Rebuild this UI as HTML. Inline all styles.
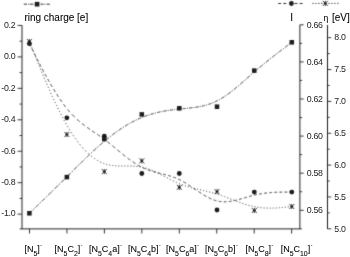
<!DOCTYPE html>
<html><head><meta charset="utf-8"><style>
html,body{margin:0;padding:0;background:#fff;width:350px;height:257px;overflow:hidden}
svg{display:block}
.xl,.ti{stroke:#000;stroke-width:0.12px;stroke-opacity:0.5}
.t{font-family:"Liberation Sans", Arial, sans-serif;font-size:8.8px;fill:#222;letter-spacing:-0.3px}
.ti{font-family:"Liberation Sans", Arial, sans-serif;font-size:10px;fill:#000}
.xl{font-family:"Liberation Sans", Arial, sans-serif;font-size:9px;fill:#000}
.sb{font-size:6.9px}
.sp{font-size:5px}
</style></head><body>
<svg width="350" height="257" viewBox="0 0 350 257">
<defs><filter id="bl" x="0" y="0" width="350" height="257" filterUnits="userSpaceOnUse"><feConvolveMatrix order="3" kernelMatrix="1 6 1 6 36 6 1 6 1" divisor="64" edgeMode="none"/></filter></defs>
<rect width="350" height="257" fill="#fff"/>
<g filter="url(#bl)">
<g stroke="#222" stroke-width="1" fill="none">
<path d="M22.0 25.3V228.9M19.8 228.9H301.8M299.9 24.8V228.9M327.5 25.0V228.9"/>
<path d="M17.60 25.45L22.00 25.45M17.60 56.90L22.00 56.90M17.60 88.35L22.00 88.35M17.60 119.80L22.00 119.80M17.60 151.25L22.00 151.25M17.60 182.70L22.00 182.70M17.60 214.15L22.00 214.15M19.60 41.17L22.00 41.17M19.60 72.62L22.00 72.62M19.60 104.07L22.00 104.07M19.60 135.53L22.00 135.53M19.60 166.97L22.00 166.97M19.60 198.43L22.00 198.43M299.90 24.80L303.70 24.80M299.90 61.90L303.70 61.90M299.90 99.00L303.70 99.00M299.90 136.10L303.70 136.10M299.90 173.20L303.70 173.20M299.90 210.30L303.70 210.30M299.90 43.35L302.10 43.35M299.90 80.45L302.10 80.45M299.90 117.55L302.10 117.55M299.90 154.65L302.10 154.65M299.90 191.75L302.10 191.75M327.50 37.70L331.30 37.70M327.50 69.55L331.30 69.55M327.50 101.40L331.30 101.40M327.50 133.25L331.30 133.25M327.50 165.10L331.30 165.10M327.50 196.95L331.30 196.95M327.50 228.80L331.30 228.80M327.50 53.62L329.70 53.62M327.50 85.48L329.70 85.48M327.50 117.33L329.70 117.33M327.50 149.18L329.70 149.18M327.50 181.03L329.70 181.03M327.50 212.88L329.70 212.88M29.50 228.90L29.50 233.50M66.95 228.90L66.95 233.50M104.40 228.90L104.40 233.50M141.85 228.90L141.85 233.50M179.30 228.90L179.30 233.50M216.75 228.90L216.75 233.50M254.20 228.90L254.20 233.50M291.65 228.90L291.65 233.50" stroke-width="0.9"/>
</g>
<path d="M29.40 213.30L29.47 213.23L29.69 213.02L29.93 212.79L30.18 212.55L30.44 212.29L30.72 212.03L30.99 211.76L31.26 211.51L31.54 211.23L31.83 210.95L32.11 210.68L32.25 210.54M33.32 209.51L33.59 209.25L33.87 208.98L34.15 208.71L34.24 208.62M35.45 207.46L35.73 207.18L36.01 206.91L36.29 206.64L36.57 206.37L36.86 206.09L37.14 205.82L37.42 205.54L37.71 205.27L37.99 204.99L38.28 204.72L38.57 204.43L38.62 204.39M39.72 203.32L40.02 203.04L40.31 202.75L40.61 202.46L40.66 202.41M41.83 201.28L42.13 200.99L42.42 200.71L42.71 200.43L43.00 200.15L43.29 199.87L43.58 199.59L43.86 199.31L44.15 199.03L44.44 198.75L44.73 198.46L45.03 198.18M46.15 197.08L46.45 196.80L46.74 196.51L47.04 196.22M48.23 195.07L48.52 194.78L48.82 194.49L49.11 194.21L49.40 193.93L49.69 193.65L49.98 193.36L50.27 193.08L50.56 192.80L50.85 192.51L51.15 192.22L51.44 191.94M52.54 190.87L52.84 190.58L53.13 190.29L53.42 190.00M54.65 188.80L54.95 188.51L55.24 188.22L55.54 187.93L55.83 187.65L56.12 187.36L56.41 187.08L56.70 186.80L56.99 186.51L57.28 186.23L57.58 185.94L57.82 185.70M58.95 184.59L59.24 184.30L59.54 184.01L59.84 183.72M61.03 182.55L61.32 182.25L61.62 181.96L61.92 181.67L62.22 181.37L62.52 181.08L62.81 180.79L63.10 180.50L63.39 180.22L63.68 179.93L63.97 179.64L64.26 179.36M65.33 178.30L65.62 178.01L65.92 177.72L66.21 177.44L66.26 177.39M67.42 176.23L67.71 175.94L68.01 175.65L68.30 175.36L68.59 175.07L68.88 174.78L69.17 174.50L69.47 174.21L69.76 173.92L70.05 173.63L70.34 173.34L70.63 173.05M71.75 171.94L72.04 171.65L72.33 171.36L72.63 171.07M73.84 169.86L74.13 169.57L74.43 169.28L74.72 168.99L75.01 168.70L75.30 168.41L75.59 168.12L75.88 167.83L76.18 167.54L76.47 167.26L76.76 166.97L77.05 166.68M78.12 165.62L78.41 165.33L78.71 165.05L79.00 164.76L79.05 164.71M80.26 163.52L80.55 163.23L80.84 162.94L81.14 162.66L81.43 162.37L81.72 162.09L82.01 161.80L82.30 161.51L82.60 161.23L82.89 160.95L83.18 160.66L83.42 160.43M84.54 159.34L84.83 159.06L85.12 158.78L85.42 158.49M86.63 157.32L86.92 157.04L87.22 156.77L87.51 156.49L87.80 156.21L88.09 155.93L88.38 155.65L88.68 155.37L88.97 155.10L89.26 154.82L89.55 154.54L89.84 154.27M90.96 153.22L91.25 152.94L91.55 152.67L91.84 152.40M93.05 151.27L93.35 151.00L93.64 150.73L93.93 150.46L94.22 150.19L94.51 149.92L94.80 149.66L95.10 149.39L95.39 149.12L95.68 148.86L95.97 148.59L96.26 148.33M97.33 147.37L97.63 147.10L97.92 146.84L98.21 146.59L98.26 146.54M99.43 145.51L99.72 145.25L100.01 145.00L100.30 144.74L100.59 144.49L100.89 144.23L101.18 143.98L101.47 143.73L101.76 143.48L102.05 143.23L102.35 142.98L102.64 142.73M103.76 141.78L104.05 141.54L104.34 141.29L104.63 141.05M105.85 140.04L106.14 139.80L106.43 139.56L106.73 139.32L107.02 139.09L107.31 138.85L107.60 138.61L107.89 138.38L108.19 138.15L108.48 137.92L108.77 137.68L109.06 137.45M110.13 136.61L110.42 136.38L110.72 136.16L111.01 135.93L111.06 135.90M112.23 135.00L112.52 134.78L112.81 134.56L113.10 134.34L113.39 134.12L113.69 133.91L113.98 133.69L114.27 133.47L114.56 133.26L114.85 133.04L115.15 132.83L115.44 132.62M116.56 131.82L116.85 131.61L117.14 131.40L117.43 131.19M118.65 130.35L118.94 130.14L119.23 129.95L119.53 129.75L119.82 129.55L120.11 129.35L120.40 129.15L120.70 128.96L120.99 128.76L121.28 128.57L121.57 128.38L121.86 128.18M122.93 127.49L123.23 127.30L123.52 127.12L123.81 126.93L123.86 126.90M125.03 126.17L125.32 125.99L125.61 125.81L125.90 125.63L126.20 125.46L126.49 125.28L126.78 125.11L127.07 124.93L127.37 124.76L127.66 124.59L127.95 124.42L128.24 124.24M129.36 123.60L129.65 123.44L129.95 123.27L130.24 123.11M131.46 122.44L131.75 122.28L132.04 122.13L132.33 121.97L132.62 121.81L132.92 121.66L133.21 121.51L133.50 121.36L133.79 121.21L134.08 121.06L134.38 120.91L134.62 120.78M135.74 120.23L136.03 120.09L136.32 119.95L136.62 119.81M137.83 119.23L138.13 119.10L138.42 118.97L138.71 118.83L139.00 118.70L139.29 118.57L139.59 118.44L139.88 118.31L140.17 118.19L140.46 118.06L140.76 117.94L141.05 117.82M142.12 117.37L142.41 117.25L142.70 117.14L143.00 117.02L143.04 117.00M144.26 116.53L144.55 116.42L144.85 116.31L145.14 116.20L145.43 116.10L145.72 115.99L146.01 115.89L146.31 115.78L146.60 115.68L146.89 115.58L147.18 115.47L147.43 115.39M148.55 115.02L148.84 114.92L149.13 114.83L149.42 114.74M150.64 114.36L150.93 114.27L151.23 114.18L151.52 114.09L151.81 114.01L152.10 113.93L152.39 113.84L152.69 113.76L152.98 113.67L153.27 113.59L153.56 113.51L153.86 113.43M154.93 113.15L155.22 113.07L155.51 113.00L155.80 112.93L155.85 112.91M157.02 112.62L157.31 112.56L157.61 112.49L157.90 112.42L158.19 112.35L158.48 112.28L158.78 112.22L159.07 112.15L159.36 112.09L159.65 112.02L159.95 111.96L160.24 111.90M161.36 111.67L161.65 111.61L161.94 111.55L162.24 111.49M163.45 111.26L163.75 111.20L164.04 111.15L164.33 111.10L164.62 111.05L164.92 110.99L165.21 110.94L165.50 110.89L165.79 110.84L166.09 110.79L166.38 110.74L166.62 110.70M167.74 110.52L168.04 110.48L168.33 110.43L168.62 110.39M169.84 110.20L170.13 110.16L170.43 110.12L170.72 110.08L171.01 110.04L171.30 110.00L171.60 109.96L171.89 109.92L172.18 109.88L172.47 109.84L172.77 109.80L173.06 109.77M174.13 109.63L174.43 109.60L174.72 109.56L175.01 109.53L175.06 109.52M176.23 109.39L176.52 109.35L176.82 109.32L177.11 109.29L177.40 109.25L177.70 109.22L177.99 109.19L178.28 109.16L178.57 109.13L178.87 109.10L179.16 109.07L179.45 109.04M180.53 108.93L180.82 108.90L181.11 108.87L181.41 108.84L181.45 108.84M182.63 108.73L182.92 108.70L183.21 108.67L183.51 108.64L183.80 108.61L184.09 108.59L184.39 108.56L184.68 108.53L184.97 108.50L185.26 108.47L185.56 108.44L185.85 108.42M186.93 108.31L187.22 108.28L187.51 108.25L187.81 108.22L187.85 108.22M189.03 108.10L189.32 108.06L189.61 108.03L189.91 108.00L190.20 107.97L190.49 107.94L190.79 107.90L191.08 107.87L191.37 107.83L191.67 107.80L191.96 107.76L192.25 107.73M193.33 107.59L193.62 107.56L193.91 107.52L194.21 107.48L194.26 107.47M195.43 107.30L195.72 107.26L196.01 107.22L196.31 107.17L196.60 107.13L196.89 107.08L197.19 107.03L197.48 106.98L197.77 106.94L198.07 106.89L198.36 106.84L198.65 106.78M199.73 106.59L200.02 106.53L200.31 106.47L200.61 106.42L200.66 106.41M201.83 106.16L202.12 106.10L202.41 106.03L202.71 105.97L203.00 105.90L203.29 105.83L203.59 105.76L203.88 105.69L204.17 105.62L204.47 105.54L204.76 105.47L205.05 105.39M206.13 105.10L206.42 105.02L206.71 104.93L207.00 104.85L207.05 104.83M208.22 104.47L208.52 104.38L208.81 104.28L209.10 104.19L209.39 104.09L209.69 103.99L209.98 103.89L210.27 103.78L210.57 103.68L210.86 103.58L211.15 103.47L211.44 103.35M212.52 102.94L212.81 102.82L213.10 102.70L213.39 102.58L213.44 102.56M214.66 102.03L214.95 101.90L215.24 101.76L215.54 101.62L215.83 101.48L216.12 101.35L216.41 101.21L216.71 101.06L217.00 100.91L217.29 100.76L217.58 100.61L217.83 100.49M218.95 99.89L219.24 99.73L219.53 99.56L219.82 99.39M221.04 98.68L221.33 98.51L221.62 98.33L221.91 98.15L222.20 97.98L222.50 97.79L222.79 97.61L223.08 97.42L223.37 97.24L223.66 97.05L223.96 96.85L224.25 96.66M225.32 95.94L225.61 95.74L225.90 95.54L226.19 95.34L226.24 95.31M227.45 94.45L227.75 94.24L228.04 94.03L228.33 93.81L228.62 93.60L228.91 93.38L229.20 93.17L229.49 92.95L229.79 92.73L230.08 92.51L230.37 92.29L230.66 92.07M231.73 91.24L232.02 91.01L232.31 90.78L232.60 90.55L232.65 90.51M233.86 89.54L234.15 89.31L234.45 89.07L234.74 88.84L235.03 88.60L235.32 88.36L235.61 88.12L235.90 87.88L236.19 87.64L236.48 87.40L236.78 87.15L237.02 86.95M238.13 86.01L238.43 85.77L238.72 85.52L239.01 85.27L239.06 85.23M240.22 84.23L240.51 83.98L240.80 83.73L241.09 83.48L241.39 83.23L241.68 82.98L241.97 82.72L242.26 82.47L242.55 82.22L242.84 81.96L243.13 81.71L243.42 81.46M244.54 80.48L244.83 80.22L245.12 79.97L245.41 79.71L245.46 79.67M246.63 78.64L246.92 78.39L247.21 78.13L247.50 77.87L247.79 77.62L248.08 77.36L248.37 77.10L248.66 76.85L248.96 76.59L249.25 76.34L249.54 76.08L249.83 75.82M250.95 74.85L251.24 74.59L251.53 74.34L251.82 74.08M253.03 73.02L253.32 72.77L253.62 72.52L253.91 72.27L254.20 72.02L254.49 71.77L254.78 71.52L255.07 71.27L255.36 71.02L255.66 70.77L255.95 70.52L256.24 70.27M257.35 69.33L257.64 69.08L257.93 68.84L258.22 68.59M259.45 67.56L259.75 67.31L260.05 67.06L260.35 66.82L260.65 66.57L260.95 66.32L261.24 66.08L261.54 65.83L261.84 65.59L262.13 65.35L262.43 65.10L262.62 64.94M263.75 64.02L264.04 63.78L264.33 63.54L264.62 63.31M265.83 62.33L266.13 62.09L266.43 61.85L266.73 61.61L267.02 61.37L267.31 61.14L267.61 60.90L267.90 60.67L268.19 60.43L268.49 60.19L268.79 59.96L269.04 59.76M270.13 58.89L270.42 58.66L270.72 58.43L271.01 58.20L271.06 58.16M272.26 57.21L272.56 56.98L272.85 56.75L273.15 56.52L273.44 56.29L273.74 56.05L274.04 55.82L274.34 55.59L274.64 55.36L274.93 55.13L275.22 54.90L275.46 54.71M276.55 53.88L276.84 53.65L277.13 53.43L277.41 53.21L277.46 53.17M278.62 52.28L278.91 52.06L279.20 51.83L279.50 51.61L279.79 51.38L280.08 51.16L280.38 50.93L280.68 50.71L280.97 50.48L281.27 50.26L281.57 50.03L281.82 49.84M282.96 48.97L283.24 48.76L283.53 48.54L283.81 48.33L283.86 48.29M285.04 47.40L285.32 47.19L285.61 46.97L285.89 46.76L286.17 46.55L286.45 46.34L286.72 46.13L287.00 45.92L287.28 45.71L287.55 45.50L287.83 45.29L288.11 45.09L288.25 44.98M289.32 44.17L289.61 43.95L289.90 43.74L290.16 43.54L290.25 43.47M291.43 42.58L291.66 42.41L291.80 42.30L291.80 42.30" fill="none" stroke="#121212" stroke-width="0.85"/>
<path d="M29.40 43.70L29.46 43.81L29.57 44.04L29.71 44.31L29.84 44.58L29.98 44.84L30.11 45.10L30.25 45.37L30.38 45.65L30.52 45.93L30.67 46.21L30.72 46.31M31.88 48.60L32.02 48.88L32.17 49.17L32.31 49.47L32.46 49.76L32.61 50.05L32.75 50.34L32.90 50.63L33.05 50.91L33.19 51.20L33.29 51.39M34.43 53.66L34.58 53.95L34.73 54.25L34.88 54.55L35.03 54.85L35.18 55.14L35.33 55.44L35.48 55.74L35.63 56.04L35.78 56.33L35.83 56.43M36.99 58.72L37.14 59.01L37.29 59.31L37.44 59.61L37.59 59.91L37.74 60.20L37.90 60.50L38.05 60.79L38.20 61.09L38.35 61.38L38.40 61.48M39.58 63.78L39.73 64.08L39.88 64.37L40.04 64.67L40.19 64.97L40.34 65.27L40.50 65.57L40.65 65.87L40.81 66.17L40.97 66.46L41.02 66.56M42.20 68.82L42.35 69.12L42.51 69.41L42.67 69.71L42.82 70.00L42.98 70.29L43.13 70.59L43.29 70.88L43.45 71.18L43.60 71.47L43.68 71.62M44.90 73.89L45.06 74.19L45.23 74.49L45.39 74.79L45.55 75.09L45.71 75.38L45.88 75.68L46.04 75.98L46.20 76.28L46.36 76.57L46.42 76.67M47.67 78.93L47.83 79.22L48.00 79.52L48.16 79.82L48.33 80.11L48.50 80.41L48.67 80.71L48.83 81.00L49.00 81.30L49.17 81.60L49.25 81.75M50.54 83.98L50.71 84.28L50.88 84.58L51.06 84.88L51.23 85.18L51.41 85.48L51.58 85.77L51.76 86.07L51.93 86.37L52.11 86.67L52.20 86.82M53.53 89.05L53.71 89.35L53.89 89.65L54.07 89.95L54.25 90.24L54.44 90.54L54.62 90.83L54.80 91.13L54.98 91.42L55.16 91.72L55.26 91.87M56.66 94.10L56.85 94.40L57.04 94.70L57.23 94.99L57.42 95.29L57.61 95.58L57.80 95.88L57.99 96.17L58.18 96.47L58.37 96.76L58.47 96.91M59.99 99.18L60.19 99.48L60.40 99.78L60.60 100.08L60.80 100.37L61.01 100.67L61.22 100.97L61.42 101.26L61.63 101.56L61.84 101.86L61.91 101.96M63.55 104.23L63.77 104.53L63.99 104.82L64.21 105.12L64.43 105.41L64.65 105.70L64.88 106.00L65.10 106.29L65.32 106.58L65.56 106.88L65.68 107.03M67.50 109.30L67.74 109.59L67.98 109.89L68.23 110.18L68.49 110.48L68.74 110.78L69.00 111.08L69.26 111.37L69.51 111.67L69.78 111.96L69.91 112.11M72.01 114.38L72.29 114.68L72.58 114.98L72.87 115.28L73.16 115.57L73.45 115.87L73.74 116.16L74.04 116.45L74.33 116.73L74.62 117.02L74.72 117.11M77.00 119.25L77.29 119.51L77.59 119.77L77.88 120.04L78.17 120.29L78.46 120.54L78.75 120.80L79.05 121.05L79.34 121.30L79.63 121.55L79.82 121.71M82.06 123.54L82.35 123.77L82.64 124.00L82.94 124.23L83.23 124.45L83.52 124.68L83.81 124.90L84.10 125.12L84.40 125.35L84.69 125.57L84.88 125.71M87.12 127.36L87.41 127.57L87.70 127.78L87.99 127.99L88.29 128.19L88.58 128.40L88.87 128.61L89.16 128.81L89.45 129.02L89.75 129.22L89.94 129.36M92.18 130.90L92.47 131.10L92.76 131.30L93.05 131.50L93.35 131.70L93.64 131.90L93.93 132.10L94.22 132.29L94.51 132.49L94.80 132.69L95.00 132.82M97.24 134.35L97.53 134.55L97.82 134.75L98.11 134.95L98.40 135.15L98.70 135.35L98.99 135.55L99.28 135.75L99.57 135.96L99.86 136.16L100.06 136.30M102.30 137.88L102.59 138.09L102.88 138.30L103.17 138.52L103.46 138.73L103.76 138.94L104.05 139.16L104.34 139.38L104.63 139.59L104.92 139.81L105.12 139.96M107.36 141.68L107.65 141.90L107.94 142.13L108.23 142.36L108.53 142.59L108.82 142.82L109.11 143.05L109.40 143.29L109.69 143.52L109.99 143.76L110.18 143.91M112.42 145.73L112.71 145.96L113.00 146.20L113.30 146.44L113.59 146.68L113.88 146.92L114.17 147.16L114.46 147.40L114.76 147.64L115.05 147.89L115.24 148.05M117.48 149.90L117.77 150.14L118.07 150.38L118.36 150.62L118.65 150.86L118.94 151.11L119.23 151.35L119.53 151.59L119.82 151.83L120.11 152.07L120.26 152.19M122.55 154.06L122.84 154.29L123.13 154.53L123.42 154.76L123.71 155.00L124.01 155.23L124.30 155.47L124.59 155.70L124.88 155.93L125.17 156.16L125.32 156.28M127.61 158.06L127.90 158.28L128.19 158.50L128.49 158.73L128.78 158.95L129.07 159.17L129.36 159.38L129.65 159.60L129.95 159.82L130.24 160.03L130.38 160.14M132.67 161.77L132.96 161.98L133.26 162.17L133.55 162.37L133.84 162.57L134.13 162.77L134.43 162.97L134.72 163.16L135.01 163.35L135.30 163.54L135.45 163.63M137.74 165.05L138.03 165.22L138.32 165.40L138.61 165.57L138.91 165.73L139.20 165.90L139.49 166.06L139.78 166.22L140.07 166.39L140.37 166.54L140.51 166.62M142.80 167.77L143.09 167.90L143.39 168.03L143.68 168.17L143.97 168.30L144.26 168.43L144.55 168.55L144.85 168.68L145.14 168.80L145.43 168.92L145.58 168.98M147.82 169.84L148.11 169.95L148.40 170.05L148.69 170.16L148.99 170.26L149.28 170.35L149.57 170.45L149.86 170.55L150.15 170.65L150.45 170.74L150.64 170.80M152.88 171.48L153.17 171.57L153.47 171.65L153.76 171.73L154.05 171.81L154.34 171.89L154.63 171.97L154.93 172.05L155.22 172.13L155.51 172.21L155.71 172.26M157.95 172.84L158.24 172.91L158.53 172.98L158.82 173.06L159.12 173.13L159.41 173.20L159.70 173.27L159.99 173.35L160.29 173.42L160.58 173.49L160.77 173.54M163.02 174.09L163.31 174.16L163.60 174.24L163.89 174.31L164.18 174.39L164.48 174.46L164.77 174.54L165.06 174.61L165.35 174.69L165.65 174.76L165.84 174.81M168.08 175.43L168.38 175.51L168.67 175.59L168.96 175.68L169.26 175.77L169.55 175.85L169.84 175.94L170.13 176.03L170.43 176.12L170.72 176.21L170.86 176.26M173.16 177.03L173.45 177.13L173.74 177.23L174.04 177.34L174.33 177.45L174.62 177.56L174.91 177.67L175.21 177.79L175.50 177.90L175.79 178.02L175.94 178.08M178.18 179.04L178.48 179.18L178.77 179.32L179.06 179.46L179.36 179.60L179.65 179.74L179.94 179.89L180.23 180.04L180.53 180.19L180.82 180.34L181.02 180.44M183.26 181.68L183.56 181.84L183.85 182.01L184.14 182.19L184.43 182.36L184.73 182.54L185.02 182.71L185.31 182.89L185.61 183.07L185.90 183.25L186.05 183.34M188.34 184.79L188.64 184.99L188.93 185.18L189.22 185.37L189.52 185.56L189.81 185.75L190.10 185.95L190.40 186.14L190.69 186.34L190.98 186.53L191.13 186.63M193.38 188.15L193.67 188.35L193.96 188.55L194.26 188.75L194.55 188.95L194.84 189.15L195.14 189.35L195.43 189.54L195.72 189.74L196.01 189.94L196.16 190.04M198.46 191.58L198.75 191.78L199.04 191.97L199.34 192.17L199.63 192.36L199.92 192.55L200.22 192.74L200.51 192.93L200.80 193.12L201.10 193.31L201.24 193.41M203.49 194.81L203.78 194.99L204.07 195.17L204.37 195.34L204.66 195.51L204.95 195.69L205.25 195.86L205.54 196.03L205.83 196.19L206.13 196.36L206.32 196.47M208.57 197.67L208.86 197.82L209.15 197.97L209.44 198.11L209.74 198.25L210.03 198.39L210.32 198.53L210.61 198.67L210.91 198.80L211.20 198.93L211.35 198.99M213.64 199.92L213.93 200.02L214.22 200.12L214.51 200.22L214.81 200.32L215.10 200.41L215.39 200.50L215.68 200.58L215.98 200.67L216.27 200.76L216.41 200.80M218.70 201.30L218.99 201.36L219.29 201.41L219.58 201.45L219.87 201.49L220.16 201.53L220.45 201.57L220.75 201.61L221.04 201.64L221.33 201.66L221.48 201.67M223.76 201.79L224.05 201.79L224.34 201.80L224.64 201.80L224.93 201.80L225.22 201.79L225.51 201.77L225.80 201.76L226.09 201.75L226.39 201.74L226.53 201.73M228.81 201.53L229.11 201.50L229.40 201.46L229.69 201.42L229.98 201.38L230.27 201.34L230.56 201.30L230.85 201.25L231.14 201.20L231.44 201.15L231.58 201.13M233.86 200.69L234.15 200.62L234.45 200.56L234.74 200.50L235.03 200.43L235.32 200.36L235.61 200.29L235.90 200.23L236.19 200.16L236.48 200.08L236.68 200.04M238.91 199.45L239.20 199.37L239.49 199.29L239.78 199.21L240.08 199.13L240.37 199.05L240.66 198.97L240.95 198.88L241.24 198.80L241.53 198.71L241.72 198.66M243.96 198.00L244.25 197.91L244.54 197.83L244.83 197.74L245.12 197.65L245.41 197.57L245.70 197.48L245.99 197.39L246.29 197.30L246.58 197.22L246.77 197.16M249.05 196.49L249.34 196.41L249.63 196.33L249.93 196.24L250.22 196.16L250.51 196.08L250.80 196.00L251.09 195.92L251.38 195.84L251.67 195.76L251.82 195.72M254.10 195.14L254.39 195.07L254.68 195.00L254.98 194.94L255.27 194.87L255.56 194.80L255.85 194.74L256.14 194.67L256.43 194.61L256.72 194.55L256.92 194.51M259.15 194.07L259.45 194.02L259.75 193.96L260.05 193.91L260.35 193.86L260.65 193.81L260.95 193.76L261.24 193.71L261.54 193.66L261.84 193.62L261.98 193.60M264.23 193.27L264.52 193.23L264.81 193.20L265.10 193.16L265.39 193.12L265.69 193.09L265.98 193.05L266.28 193.02L266.58 192.99L266.87 192.95L267.02 192.94M269.29 192.71L269.59 192.68L269.88 192.66L270.18 192.63L270.47 192.61L270.77 192.58L271.06 192.56L271.34 192.54L271.63 192.52L271.92 192.50L272.07 192.49M274.34 192.35L274.64 192.33L274.93 192.32L275.22 192.30L275.51 192.29L275.81 192.28L276.10 192.26L276.40 192.25L276.69 192.24L276.98 192.23L277.13 192.22M279.40 192.16L279.69 192.15L279.99 192.14L280.28 192.14L280.58 192.13L280.87 192.13L281.17 192.12L281.47 192.12L281.77 192.12L282.06 192.11L282.20 192.11M284.48 192.10L284.76 192.10L285.04 192.10L285.32 192.10L285.61 192.10L285.89 192.10L286.17 192.10L286.45 192.10L286.72 192.10L287.00 192.10L287.28 192.10M289.51 192.10L289.80 192.10L290.07 192.10L290.34 192.10L290.63 192.10L290.88 192.10L291.15 192.10L291.39 192.10L291.63 192.10L291.79 192.10L291.80 192.10" fill="none" stroke="#121212" stroke-width="0.85"/>
<path d="M29.40 41.50L29.44 41.60L29.53 41.83L29.64 42.10L29.75 42.37L29.77 42.42M30.60 44.49L30.73 44.79L30.84 45.08L30.96 45.37L31.00 45.47M31.83 47.53L31.95 47.82L32.07 48.12L32.19 48.42L32.21 48.47M33.05 50.55L33.16 50.85L33.28 51.14L33.40 51.43L33.44 51.52M34.27 53.59L34.39 53.89L34.51 54.18L34.63 54.48L34.65 54.53M35.48 56.60L35.60 56.89L35.72 57.19L35.84 57.49L35.86 57.54M36.69 59.61L36.82 59.91L36.94 60.21L37.06 60.51L37.08 60.56M37.92 62.63L38.03 62.93L38.15 63.22L38.27 63.51L38.31 63.61M39.15 65.67L39.27 65.97L39.39 66.26L39.51 66.56L39.53 66.61M40.40 68.72L40.52 69.02L40.65 69.32L40.77 69.62L40.79 69.67M41.63 71.71L41.75 72.00L41.88 72.30L42.00 72.60L42.04 72.70M42.89 74.74L43.02 75.04L43.14 75.34L43.27 75.64L43.29 75.69M44.16 77.76L44.29 78.06L44.41 78.35L44.54 78.65L44.58 78.75M45.46 80.82L45.59 81.12L45.71 81.42L45.84 81.71L45.86 81.76M46.75 83.84L46.88 84.13L47.01 84.43L47.14 84.72L47.16 84.77M48.06 86.85L48.19 87.15L48.32 87.45L48.46 87.74L48.48 87.79M49.40 89.88L49.53 90.18L49.66 90.48L49.79 90.77L49.81 90.82M50.74 92.90L50.88 93.20L51.01 93.50L51.15 93.80L51.17 93.85M52.12 95.94L52.25 96.24L52.39 96.54L52.53 96.84L52.55 96.89M53.51 98.98L53.65 99.28L53.79 99.58L53.93 99.88L53.95 99.93M54.91 101.97L55.05 102.27L55.19 102.57L55.33 102.87L55.35 102.92M56.35 105.00L56.49 105.30L56.63 105.59L56.78 105.89L56.82 105.99M57.82 108.04L57.97 108.34L58.11 108.64L58.26 108.94L58.28 108.99M59.32 111.06L59.46 111.36L59.61 111.66L59.76 111.95L59.79 112.00M60.85 114.09L61.00 114.39L61.15 114.68L61.31 114.98L61.33 115.03M62.42 117.12L62.58 117.42L62.74 117.71L62.90 118.01L62.92 118.06M64.04 120.14L64.20 120.44L64.36 120.74L64.53 121.03L64.55 121.08M65.71 123.16L65.88 123.46L66.04 123.76L66.21 124.06L66.24 124.11M67.44 126.19L67.61 126.49L67.79 126.79L67.96 127.08L67.99 127.13M69.24 129.22L69.42 129.52L69.61 129.82L69.79 130.11L69.82 130.16M71.12 132.23L71.31 132.53L71.50 132.82L71.69 133.12L71.76 133.22M73.12 135.29L73.32 135.58L73.52 135.88L73.71 136.17L73.74 136.22M75.19 138.30L75.40 138.59L75.61 138.88L75.82 139.18L75.90 139.27M77.42 141.34L77.64 141.63L77.86 141.93L78.09 142.23L78.13 142.28M79.79 144.37L80.03 144.66L80.27 144.96L80.51 145.26L80.55 145.31M82.34 147.40L82.60 147.69L82.87 147.99L83.13 148.28L83.18 148.33M85.12 150.42L85.42 150.72L85.71 151.01L86.00 151.31L86.05 151.36M88.14 153.37L88.43 153.64L88.72 153.90L89.02 154.17L89.06 154.21M91.16 155.99L91.45 156.22L91.74 156.46L92.03 156.69L92.08 156.73M94.17 158.28L94.46 158.48L94.76 158.69L95.05 158.89L95.10 158.92M97.19 160.24L97.48 160.42L97.77 160.60L98.06 160.76L98.16 160.81M100.20 161.89L100.50 162.04L100.79 162.18L101.08 162.31L101.18 162.35M103.27 163.25L103.56 163.36L103.85 163.46L104.15 163.57L104.19 163.58M106.29 164.26L106.58 164.34L106.87 164.42L107.16 164.50L107.21 164.51M109.30 165.00L109.60 165.05L109.89 165.11L110.18 165.17L110.23 165.18M112.32 165.50L112.61 165.53L112.91 165.57L113.20 165.61L113.30 165.62M115.34 165.81L115.63 165.83L115.92 165.85L116.22 165.87L116.31 165.87M118.36 165.97L118.65 165.98L118.94 165.99L119.23 165.99L119.33 165.99M121.43 166.03L121.72 166.03L122.01 166.03L122.30 166.03L122.35 166.03M124.44 166.02L124.74 166.02L125.03 166.02L125.32 166.02L125.37 166.02M127.46 166.01L127.75 166.01L128.05 166.01L128.34 166.01L128.39 166.01M130.48 166.02L130.77 166.03L131.07 166.03L131.36 166.04L131.46 166.04M133.50 166.11L133.79 166.13L134.08 166.14L134.38 166.16L134.47 166.16M136.52 166.32L136.81 166.35L137.10 166.38L137.40 166.41L137.49 166.42M139.54 166.69L139.83 166.74L140.12 166.78L140.41 166.84L140.51 166.86M142.61 167.28L142.90 167.35L143.19 167.42L143.48 167.50L143.53 167.51M145.63 168.09L145.92 168.18L146.21 168.27L146.50 168.37L146.55 168.38M148.64 169.10L148.94 169.21L149.23 169.32L149.52 169.43L149.57 169.45M151.66 170.29L151.96 170.41L152.25 170.53L152.54 170.66L152.59 170.68M154.68 171.61L154.98 171.74L155.27 171.88L155.56 172.01L155.66 172.06M157.70 173.04L158.00 173.18L158.29 173.33L158.58 173.47L158.68 173.52M160.72 174.55L161.02 174.70L161.31 174.85L161.60 175.00L161.70 175.05M163.75 176.10L164.04 176.25L164.33 176.41L164.62 176.56L164.72 176.61M166.82 177.70L167.11 177.85L167.40 178.00L167.69 178.15L167.74 178.18M169.84 179.25L170.13 179.40L170.43 179.55L170.72 179.70L170.77 179.72M172.86 180.76L173.16 180.90L173.45 181.04L173.74 181.18L173.79 181.21M175.89 182.19L176.18 182.32L176.47 182.45L176.77 182.59L176.82 182.61M178.92 183.51L179.21 183.63L179.50 183.75L179.79 183.87L179.84 183.89M181.94 184.69L182.24 184.80L182.53 184.91L182.82 185.01L182.87 185.03M184.97 185.75L185.26 185.85L185.56 185.94L185.85 186.04L185.90 186.05M187.95 186.69L188.25 186.78L188.54 186.86L188.83 186.95L188.93 186.97M190.98 187.55L191.27 187.63L191.57 187.71L191.86 187.78L191.96 187.81M194.01 188.34L194.30 188.41L194.60 188.49L194.89 188.56L194.99 188.58M197.04 189.08L197.33 189.15L197.63 189.22L197.92 189.29L198.02 189.31M200.07 189.79L200.36 189.86L200.66 189.92L200.95 189.99L201.05 190.01M203.10 190.48L203.39 190.55L203.68 190.62L203.98 190.69L204.07 190.71M206.13 191.19L206.42 191.26L206.71 191.33L207.00 191.40L207.10 191.42M209.15 191.92L209.44 191.99L209.74 192.06L210.03 192.14L210.13 192.16M212.17 192.69L212.47 192.77L212.76 192.85L213.05 192.93L213.15 192.96M215.20 193.53L215.49 193.62L215.78 193.70L216.07 193.79L216.17 193.82M218.22 194.45L218.51 194.55L218.80 194.64L219.09 194.74L219.19 194.77M221.28 195.48L221.57 195.58L221.86 195.68L222.16 195.79L222.20 195.80M224.30 196.56L224.59 196.66L224.88 196.77L225.17 196.88L225.22 196.90M227.31 197.68L227.60 197.79L227.89 197.90L228.18 198.01L228.28 198.05M230.32 198.83L230.61 198.94L230.90 199.06L231.19 199.17L231.29 199.21M233.38 200.01L233.67 200.12L233.96 200.23L234.25 200.35L234.30 200.37M236.39 201.16L236.68 201.27L236.97 201.38L237.26 201.49L237.36 201.52M239.40 202.28L239.69 202.38L239.98 202.49L240.27 202.59L240.37 202.63M242.45 203.36L242.74 203.46L243.03 203.56L243.33 203.66L243.37 203.67M245.46 204.35L245.75 204.44L246.04 204.54L246.33 204.62L246.43 204.65M248.52 205.27L248.81 205.35L249.10 205.43L249.39 205.51L249.44 205.52M251.53 206.06L251.82 206.13L252.11 206.20L252.40 206.27L252.45 206.28M254.54 206.72L254.83 206.78L255.12 206.83L255.41 206.89L255.51 206.90M257.59 207.25L257.88 207.29L258.17 207.33L258.46 207.37L258.51 207.38M260.60 207.63L260.90 207.66L261.19 207.69L261.49 207.73L261.54 207.73M263.65 207.90L263.94 207.92L264.23 207.94L264.52 207.96L264.57 207.96M266.68 208.06L266.97 208.07L267.26 208.08L267.56 208.09L267.61 208.09M269.69 208.12L269.98 208.12L270.28 208.12L270.57 208.12L270.62 208.12M272.70 208.10L273.00 208.09L273.29 208.08L273.59 208.07L273.64 208.07M275.71 207.99L276.00 207.97L276.30 207.96L276.60 207.94L276.69 207.93M278.77 207.80L279.06 207.78L279.35 207.76L279.64 207.73L279.69 207.73M281.77 207.55L282.06 207.52L282.34 207.50L282.63 207.47L282.72 207.46M284.81 207.25L285.09 207.22L285.37 207.19L285.65 207.16L285.75 207.15M287.83 206.92L288.11 206.89L288.39 206.86L288.66 206.83L288.80 206.82M290.84 206.60L291.11 206.57L291.36 206.55L291.59 206.52L291.78 206.50L291.80 206.50" fill="none" stroke="#121212" stroke-width="0.85"/>
<path d="M26.90 39.00L31.90 44.00M31.90 39.00L26.90 44.00M29.40 44.00V39.00M27.90 41.50H30.90M64.35 132.00L69.35 137.00M69.35 132.00L64.35 137.00M66.85 137.00V132.00M65.35 134.50H68.35M101.80 169.10L106.80 174.10M106.80 169.10L101.80 174.10M104.30 174.10V169.10M102.80 171.60H105.80M139.30 158.40L144.30 163.40M144.30 158.40L139.30 163.40M141.80 163.40V158.40M140.30 160.90H143.30M176.80 184.90L181.80 189.90M181.80 184.90L176.80 189.90M179.30 189.90V184.90M177.80 187.40H180.80M214.50 189.10L219.50 194.10M219.50 189.10L214.50 194.10M217.00 194.10V189.10M215.50 191.60H218.50M251.80 208.00L256.80 213.00M256.80 208.00L251.80 213.00M254.30 213.00V208.00M252.80 210.50H255.80M289.30 204.00L294.30 209.00M294.30 204.00L289.30 209.00M291.80 209.00V204.00M290.30 206.50H293.30" stroke="#000" stroke-width="0.8" fill="none"/>
<circle cx="29.40" cy="43.70" r="2.4" fill="#1a1a1a"/>
<circle cx="66.85" cy="117.80" r="2.4" fill="#1a1a1a"/>
<circle cx="104.30" cy="136.20" r="2.4" fill="#1a1a1a"/>
<circle cx="141.80" cy="173.50" r="2.4" fill="#1a1a1a"/>
<circle cx="179.30" cy="173.50" r="2.4" fill="#1a1a1a"/>
<circle cx="217.00" cy="210.00" r="2.4" fill="#1a1a1a"/>
<circle cx="254.30" cy="192.10" r="2.4" fill="#1a1a1a"/>
<circle cx="291.80" cy="192.10" r="2.4" fill="#1a1a1a"/>
<rect x="27.15" y="211.05" width="4.5" height="4.5" fill="#1a1a1a"/>
<rect x="64.60" y="174.85" width="4.5" height="4.5" fill="#1a1a1a"/>
<rect x="102.05" y="136.85" width="4.5" height="4.5" fill="#1a1a1a"/>
<rect x="139.55" y="112.15" width="4.5" height="4.5" fill="#1a1a1a"/>
<rect x="177.05" y="106.05" width="4.5" height="4.5" fill="#1a1a1a"/>
<rect x="214.75" y="104.45" width="4.5" height="4.5" fill="#1a1a1a"/>
<rect x="252.05" y="68.35" width="4.5" height="4.5" fill="#1a1a1a"/>
<rect x="289.55" y="40.05" width="4.5" height="4.5" fill="#1a1a1a"/>
<path d="M23.8 4.2H27.0M28.2 4.2H29.0M29.8 4.2H33.4M40.6 4.2H43.6M44.6 4.2H45.4M46.6 4.2H49.9" stroke="#121212" stroke-width="0.85"/>
<rect x="34.8" y="1.9" width="4.6" height="4.6" fill="#1a1a1a"/>
<path d="M278.1 3.5H281.1M283.3 3.5H286.3M294.4 3.5H297.4M299.6 3.5H302.6" stroke="#121212" stroke-width="0.85"/>
<circle cx="291.4" cy="3.5" r="2.4" fill="#1a1a1a"/>
<path d="M312.35 3.4H313.65M315.25 3.4H316.54999999999995M318.15000000000003 3.4H319.45M321.05 3.4H322.34999999999997M328.25 3.4H329.54999999999995M331.25 3.4H332.54999999999995M334.25 3.4H335.54999999999995M337.25 3.4H338.54999999999995" stroke="#121212" stroke-width="0.85"/>
<path d="M322.80 0.90L327.80 5.90M327.80 0.90L322.80 5.90M325.30 5.90V0.90M323.80 3.40H326.80" stroke="#000" stroke-width="0.8" fill="none"/>
</g>
<g>
<text x="15.3" y="27.75" text-anchor="end" class="t">0.2</text>
<text x="15.3" y="59.20" text-anchor="end" class="t">0.0</text>
<text x="15.3" y="90.65" text-anchor="end" class="t">-0.2</text>
<text x="15.3" y="122.10" text-anchor="end" class="t">-0.4</text>
<text x="15.3" y="153.55" text-anchor="end" class="t">-0.6</text>
<text x="15.3" y="185.00" text-anchor="end" class="t">-0.8</text>
<text x="15.3" y="216.45" text-anchor="end" class="t">-1.0</text>
<text x="306.7" y="27.50" class="t">0.66</text>
<text x="306.7" y="64.60" class="t">0.64</text>
<text x="306.7" y="101.70" class="t">0.62</text>
<text x="306.7" y="138.80" class="t">0.60</text>
<text x="306.7" y="175.90" class="t">0.58</text>
<text x="306.7" y="213.00" class="t">0.56</text>
<text x="334.3" y="40.40" class="t">8.0</text>
<text x="334.3" y="72.25" class="t">7.5</text>
<text x="334.3" y="104.10" class="t">7.0</text>
<text x="334.3" y="135.95" class="t">6.5</text>
<text x="334.3" y="167.80" class="t">6.0</text>
<text x="334.3" y="199.65" class="t">5.5</text>
<text x="334.3" y="231.50" class="t">5.0</text>
<text x="24.4" y="21.4" class="ti" textLength="63.8" lengthAdjust="spacing">ring charge [e]</text>
<text x="290.3" y="21.2" class="ti">I</text>
<text x="323.6" y="21.0" class="ti"><tspan style="font-size:8.6px">&#951;</tspan><tspan x="331.9" dy="0.4">[eV]</tspan></text>
<text x="24.4" y="251.6" class="xl"><tspan dy="0">[N</tspan><tspan class="sb" dy="4.6">5</tspan><tspan dy="-4.6">]</tspan><tspan class="sp" dx="0.5" dy="-4.4">-</tspan></text>
<text x="54.6" y="251.6" class="xl"><tspan dy="0">[N</tspan><tspan class="sb" dy="4.6">5</tspan><tspan dy="-4.6">C</tspan><tspan class="sb" dy="4.6">2</tspan><tspan dy="-4.6">]</tspan><tspan class="sp" dx="0.5" dy="-4.4">-</tspan></text>
<text x="89.0" y="251.6" class="xl"><tspan dy="0">[N</tspan><tspan class="sb" dy="4.6">5</tspan><tspan dy="-4.6">C</tspan><tspan class="sb" dy="4.6">4</tspan><tspan dy="-4.6">a]</tspan><tspan class="sp" dx="0.5" dy="-4.4">-</tspan></text>
<text x="127.9" y="251.6" class="xl"><tspan dy="0">[N</tspan><tspan class="sb" dy="4.6">5</tspan><tspan dy="-4.6">C</tspan><tspan class="sb" dy="4.6">4</tspan><tspan dy="-4.6">b]</tspan><tspan class="sp" dx="0.5" dy="-4.4">-</tspan></text>
<text x="166.1" y="251.6" class="xl"><tspan dy="0">[N</tspan><tspan class="sb" dy="4.6">5</tspan><tspan dy="-4.6">C</tspan><tspan class="sb" dy="4.6">6</tspan><tspan dy="-4.6">a]</tspan><tspan class="sp" dx="0.5" dy="-4.4">-</tspan></text>
<text x="204.9" y="251.6" class="xl"><tspan dy="0">[N</tspan><tspan class="sb" dy="4.6">5</tspan><tspan dy="-4.6">C</tspan><tspan class="sb" dy="4.6">6</tspan><tspan dy="-4.6">b]</tspan><tspan class="sp" dx="0.5" dy="-4.4">-</tspan></text>
<text x="245.4" y="251.6" class="xl"><tspan dy="0">[N</tspan><tspan class="sb" dy="4.6">5</tspan><tspan dy="-4.6">C</tspan><tspan class="sb" dy="4.6">8</tspan><tspan dy="-4.6">]</tspan><tspan class="sp" dx="0.5" dy="-4.4">-</tspan></text>
<text x="280.7" y="251.6" class="xl"><tspan dy="0">[N</tspan><tspan class="sb" dy="4.6">5</tspan><tspan dy="-4.6">C</tspan><tspan class="sb" dy="4.6">10</tspan><tspan dy="-4.6">]</tspan><tspan class="sp" dx="0.5" dy="-4.4">-</tspan></text>
</g>
</svg>
</body></html>
